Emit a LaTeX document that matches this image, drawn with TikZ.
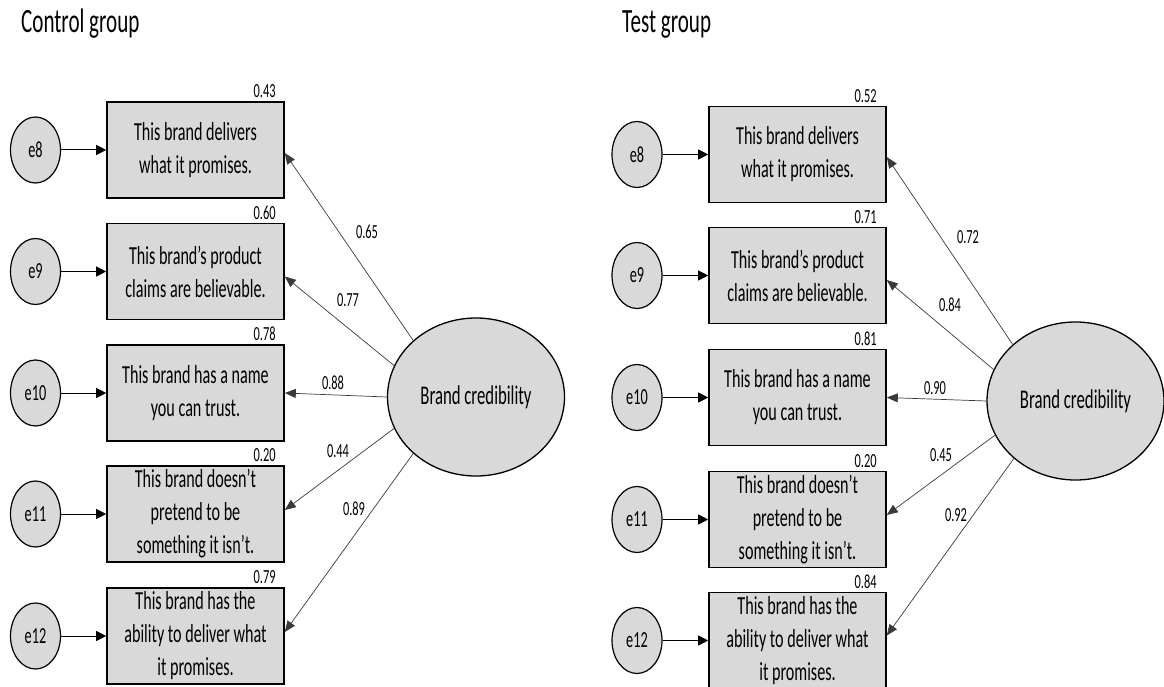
\documentclass[tikz,border=0pt]{standalone}
\usepackage{fontspec}
\newfontfamily\cf[FakeStretch=0.62]{Carlito}
\usetikzlibrary{shapes.geometric,arrows.meta,calc}
\definecolor{boxgray}{HTML}{D9D9D9}
\definecolor{linegray}{HTML}{3A3A3A}
\begin{document}
\begin{tikzpicture}[x=1pt,y=-1pt,
  itembox/.style={draw=black,line width=1.6pt,fill=boxgray,minimum width=177pt,minimum height=96pt,inner sep=0pt,align=center,font=\cf\fontsize{26}{33}\selectfont},
  errnode/.style={ellipse,draw=black,line width=1.2pt,fill=boxgray,minimum width=50pt,minimum height=66pt,inner sep=0pt,font=\cf\fontsize{23}{26}\selectfont},
  latent/.style={ellipse,draw=black,line width=1.3pt,fill=boxgray,minimum width=177pt,minimum height=158pt,inner sep=0pt,font=\cf\fontsize{27}{30}\selectfont},
  val/.style={font=\cf\fontsize{20}{23}\selectfont,inner sep=0pt},
  ttl/.style={font=\cf\fontsize{34}{38}\selectfont,inner sep=0pt,anchor=base west},
  errarrow/.style={line width=1pt,-{Triangle[length=10pt,width=10pt]}},
  loadarrow/.style={line width=0.7pt,draw=linegray,-{Triangle[length=11pt,width=9pt]}}
]
\useasboundingbox (0,0) rectangle (1164,687);

% ---------------- Control group ----------------
\node[ttl] (t1) at (21,33) {Control group};

\node[itembox] (a1) at (195.5,150) {This brand delivers\\what it promises.};
\node[itembox] (a2) at (195.5,271.5) {This brand’s product\\claims are believable.};
\node[itembox] (a3) at (195.5,393) {This brand has a name\\you can trust.};
\node[itembox] (a4) at (195.5,514) {This brand doesn’t\\pretend to be\\something it isn’t.};
\node[itembox] (a5) at (195.5,636) {This brand has the\\ability to deliver what\\it promises.};

\foreach \i/\v in {1/0.43,2/0.60,3/0.78,4/0.20,5/0.79}
  \node[val,anchor=south east] (av\i) at ([xshift=-9pt,yshift=3pt]a\i.north east) {\v};

\node[errnode] (ae8)  at (35.5,150) {e8};
\node[errnode] (ae9)  at (35.5,271.5) {e9};
\node[errnode] (ae10) at (35.5,393) {e10};
\node[errnode] (ae11) at (35.5,514) {e11};
\node[errnode] (ae12) at (35.5,636) {e12};

\draw[errarrow] (ae8) -- (a1);
\draw[errarrow] (ae9) -- (a2);
\draw[errarrow] (ae10) -- (a3);
\draw[errarrow] (ae11) -- (a4);
\draw[errarrow] (ae12) -- (a5);

\node[latent] (abc) at (476,397) {Brand credibility};

\draw[loadarrow] (abc.138) -- ([yshift=-3pt]a1.east);
\draw[loadarrow] (abc.159) -- ([yshift=-5pt]a2.east);
\draw[loadarrow] (abc.180) -- (a3.east);
\draw[loadarrow] (abc.201) -- ([yshift=4pt]a4.east);
\draw[loadarrow] (abc.222) -- ([yshift=4pt]a5.east);

\node[val] (al1) at (367,232) {0.65};
\node[val] (al2) at (348,300) {0.77};
\node[val] (al3) at (333,383) {0.88};
\node[val] (al4) at (338,451) {0.44};
\node[val] (al5) at (354,509) {0.89};

% ---------------- Test group ----------------
\node[ttl] (t2) at (622,33) {Test group};

\node[itembox] (b1) at (797.5,154.5) {This brand delivers\\what it promises.};
\node[itembox] (b2) at (797.5,275.5) {This brand’s product\\claims are believable.};
\node[itembox] (b3) at (797.5,397.5) {This brand has a name\\you can trust.};
\node[itembox] (b4) at (797.5,519.5) {This brand doesn’t\\pretend to be\\something it isn’t.};
\node[itembox] (b5) at (797.5,640.5) {This brand has the\\ability to deliver what\\it promises.};

\foreach \i/\v in {1/0.52,2/0.71,3/0.81,4/0.20,5/0.84}
  \node[val,anchor=south east] (bv\i) at ([xshift=-10pt,yshift=3pt]b\i.north east) {\v};

\node[errnode] (be8)  at (637,154.5) {e8};
\node[errnode] (be9)  at (637,275.5) {e9};
\node[errnode] (be10) at (637,397.5) {e10};
\node[errnode] (be11) at (637,519.5) {e11};
\node[errnode] (be12) at (637,640.5) {e12};

\draw[errarrow] (be8) -- (b1);
\draw[errarrow] (be9) -- (b2);
\draw[errarrow] (be10) -- (b3);
\draw[errarrow] (be11) -- (b4);
\draw[errarrow] (be12) -- (b5);

\node[latent] (bbc) at (1075.5,401) {Brand credibility};

\draw[loadarrow] (bbc.138) -- ([yshift=-2.5pt]b1.east);
\draw[loadarrow] (bbc.159) -- ([yshift=-4.5pt]b2.east);
\draw[loadarrow] (bbc.180) -- (b3.east);
\draw[loadarrow] (bbc.203) -- ([yshift=4.5pt]b4.east);
\draw[loadarrow] (bbc.223) -- ([yshift=5pt]b5.east);

\node[val] (bl1) at (968,237) {0.72};
\node[val] (bl2) at (950,305) {0.84};
\node[val] (bl3) at (935,388) {0.90};
\node[val] (bl4) at (941,455) {0.45};
\node[val] (bl5) at (956,515) {0.92};
\end{tikzpicture}
\end{document}
